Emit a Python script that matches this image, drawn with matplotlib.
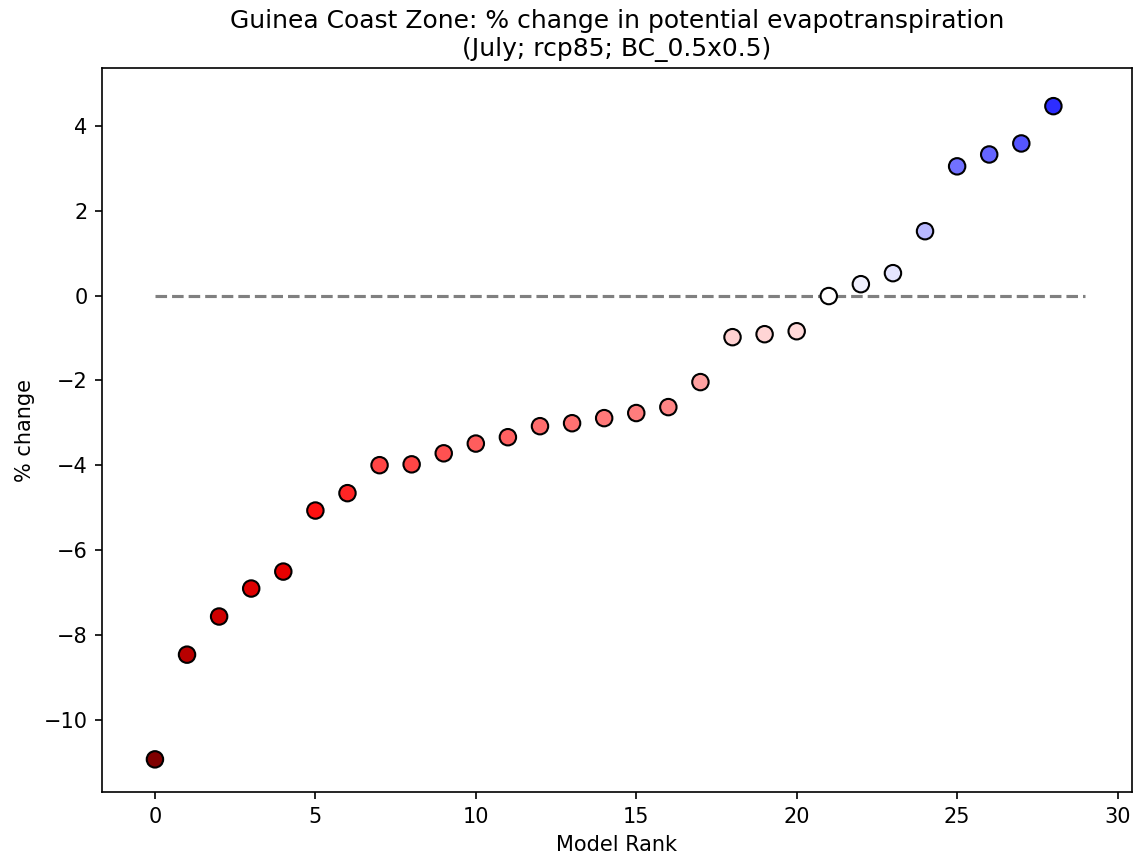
import numpy as np
import matplotlib
matplotlib.use("Agg")
import matplotlib.pyplot as plt
from matplotlib.colors import Normalize

# Data
ranks = list(range(29))
pct_change = [-10.94, -8.47, -7.57, -6.91, -6.51, -5.07, -4.66, -4.00, -3.98,
              -3.72, -3.49, -3.34, -3.08, -3.01, -2.89, -2.77, -2.63, -2.04,
              -0.98, -0.91, -0.84, -0.01, 0.27, 0.53, 1.52, 3.05, 3.33, 3.59, 4.47]
title = "Guinea Coast Zone: % change in potential evapotranspiration\n(July; rcp85; BC_0.5x0.5)"
xlabel = "Model Rank"
ylabel = "% change"

DPI = 150
fig = plt.figure(figsize=(1135 / DPI, 861 / DPI), dpi=DPI)
ax = fig.add_axes([102 / 1135, 1 - 792 / 861, (1132 - 102) / 1135, (792 - 68) / 861])

vals = np.array(pct_change)
vmax = np.abs(vals).max()
norm = Normalize(vmin=-vmax, vmax=vmax)

ax.plot([0, len(ranks)], [0, 0], color="gray", lw=1.5, linestyle="--", zorder=1)
ax.scatter(ranks, vals, c=vals, cmap="seismic_r", norm=norm, s=62,
           edgecolors="black", linewidths=1.0, zorder=3)

ax.set_xlim(-1.65, 30.45)
ax.set_ylim(-11.71, 5.37)
ax.set_xticks([0, 5, 10, 15, 20, 25, 30])
ax.set_yticks([-10, -8, -6, -4, -2, 0, 2, 4])
ax.set_title(title)
ax.set_xlabel(xlabel)
ax.set_ylabel(ylabel)

fig.savefig("out.png", dpi=DPI)
